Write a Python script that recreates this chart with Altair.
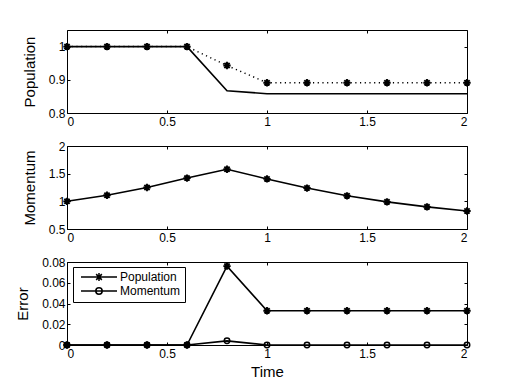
import altair as alt
import pandas as pd

# ---- data ----
time = [0.0, 0.2, 0.4, 0.6, 0.8, 1.0, 1.2, 1.4, 1.6, 1.8, 2.0]
pop_exact = [1.0, 1.0, 1.0, 1.0, 0.867, 0.858, 0.858, 0.858, 0.858, 0.858, 0.858]
pop_approx = [1.0, 1.0, 1.0, 1.0, 0.943, 0.891, 0.891, 0.891, 0.891, 0.891, 0.891]
momentum = [1.0, 1.11, 1.25, 1.42, 1.58, 1.405, 1.24, 1.10, 0.99, 0.90, 0.825]
err_pop = [0, 0, 0, 0, 0.076, 0.033, 0.033, 0.033, 0.033, 0.033, 0.033]
err_mom = [0, 0, 0, 0, 0.004, 0, 0, 0, 0, 0, 0]
series_names = ["Population", "Momentum"]

x_ticks = [0, 0.5, 1, 1.5, 2]
pop_ticks = [0.8, 0.9, 1]
mom_ticks = [0.5, 1, 1.5, 2]
err_ticks = [0, 0.02, 0.04, 0.06, 0.08]

df = pd.DataFrame({"t": time, "pe": pop_exact, "pa": pop_approx, "m": momentum,
                   "ep": err_pop, "em": err_mom})
df_long = pd.DataFrame({
    "t": time + time,
    "v": err_pop + err_mom,
    "series": [series_names[0]] * len(time) + [series_names[1]] * len(time),
})

FONT = "Liberation Sans"
STAR = "M-1,0L1,0M0,-1L0,1M-0.71,-0.71L0.71,0.71M-0.71,0.71L0.71,-0.71"
# legend glyphs: line segment with the marker on it (unit = 5 px at size 100)
LEG_STAR = ("M-3.6,0L3.6,0M-0.8,0L0.8,0M0,-0.8L0,0.8"
            "M-0.57,-0.57L0.57,0.57M-0.57,0.57L0.57,-0.57")
LEG_CIRC = "M-3.6,0L3.6,0M0.64,0A0.64,0.64,0,1,1,-0.64,0A0.64,0.64,0,1,1,0.64,0"

XDOM = alt.Scale(domain=[0, 2], nice=False, zero=False)


def xaxis(orient, labels, title=None):
    kw = dict(orient=orient, values=x_ticks, format="~g", tickSize=3, offset=-3,
              domain=False, grid=False, labels=labels, labelPadding=3)
    if title:
        kw.update(title=title, titlePadding=5)
    else:
        kw.update(title=None)
    return alt.Axis(**kw)


def yaxis(orient, labels, ticks, title=None):
    kw = dict(orient=orient, values=ticks, format="~g", tickSize=3, offset=-3,
              domain=False, grid=False, labels=labels, labelPadding=2)
    if title:
        kw.update(title=title, titlePadding=11)
    else:
        kw.update(title=None)
    return alt.Axis(**kw)


def frame_layers(field, ydom, ticks, ytitle, xtitle=None):
    ys = alt.Scale(domain=ydom, nice=False, zero=False)
    main_axes = dict(
        x=alt.X("t:Q", scale=XDOM, axis=xaxis("bottom", True, xtitle)),
        y=alt.Y(f"{field}:Q", scale=ys, axis=yaxis("left", True, ticks, ytitle)),
    )
    mirror_axes = dict(
        x=alt.X("t:Q", scale=XDOM, axis=xaxis("top", False)),
        y=alt.Y(f"{field}:Q", scale=ys, axis=yaxis("right", False, ticks)),
    )
    return ys, main_axes, mirror_axes


def plain(field, ys):
    return dict(x=alt.X("t:Q", scale=XDOM, axis=None),
                y=alt.Y(f"{field}:Q", scale=ys, axis=None))


W, H = 400, 83
base = alt.Chart(df)
star_kw = dict(shape=STAR, size=54, filled=False, color="black", strokeWidth=1.9, opacity=1)

# ---- panel 1: Population ----
ys1, a1, m1 = frame_layers("pe", [0.8, 1.05], pop_ticks, "Population")
p1 = alt.layer(
    base.mark_line(color="black", strokeWidth=1.6).encode(**a1),
    base.mark_line(color="black", strokeWidth=1.5, strokeDash=[1.2, 3.5]).encode(**plain("pa", ys1)),
    base.mark_point(**star_kw).encode(**plain("pa", ys1)),
    base.mark_line(opacity=0).encode(**m1),
).properties(width=W, height=H)

# ---- panel 2: Momentum ----
ys2, a2, m2 = frame_layers("m", [0.5, 2], mom_ticks, "Momentum")
p2 = alt.layer(
    base.mark_line(color="black", strokeWidth=1.6).encode(**a2),
    base.mark_point(**star_kw).encode(**plain("m", ys2)),
    base.mark_line(opacity=0).encode(**m2),
).properties(width=W, height=H)

# ---- panel 3: Error ----
ys3, a3, m3 = frame_layers("ep", [0, 0.08], err_ticks, "Error", "Time")
legend_layer = alt.Chart(df_long).mark_point(
    opacity=0, filled=False, color="black", strokeWidth=1.5
).encode(
    x=alt.X("t:Q", scale=XDOM, axis=None),
    y=alt.Y("v:Q", scale=ys3, axis=None),
    shape=alt.Shape("series:N",
                    scale=alt.Scale(domain=series_names, range=[LEG_STAR, LEG_CIRC]),
                    legend=alt.Legend(title=None, orient="none", legendX=6, legendY=5,
                                      symbolSize=100, symbolStrokeWidth=1.5,
                                      symbolStrokeColor="black", symbolFillColor="white",
                                      symbolOpacity=1, symbolOffset=16,
                                      labelFont=FONT, labelFontSize=12,
                                      labelColor="black", labelOffset=15, padding=4,
                                      rowPadding=0,
                                      strokeColor="black", fillColor="white")),
)
p3 = alt.layer(
    base.mark_line(color="black", strokeWidth=1.6).encode(**a3),
    base.mark_line(color="black", strokeWidth=1.6).encode(**plain("em", ys3)),
    base.mark_point(shape="circle", size=30, filled=False, color="black", strokeWidth=1.5, opacity=1).encode(**plain("em", ys3)),
    base.mark_point(**star_kw).encode(**plain("ep", ys3)),
    base.mark_line(opacity=0).encode(**m3),
    legend_layer,
).properties(width=W, height=H)

chart = alt.vconcat(p1, p2, p3, spacing=33, bounds="flush").resolve_scale(
    shape="independent"
).resolve_legend(
    shape="independent"
).properties(
    padding={"left": 7, "top": 21, "right": 10, "bottom": 5},
    background="white",
).configure_view(
    stroke="black", strokeWidth=1
).configure_axis(
    labelFont=FONT, labelFontSize=12, labelColor="black",
    titleFont=FONT, titleFontSize=15, titleColor="black", titleFontWeight="normal",
    tickColor="black", tickWidth=1,
)

chart.save("out.html", embed_options={"renderer": "svg", "actions": False})
